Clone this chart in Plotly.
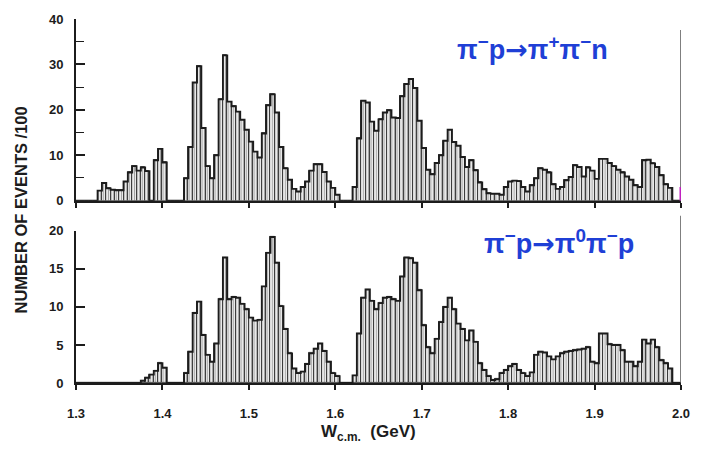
import plotly.graph_objects as go

# Histogram binning: 5 MeV bins starting at 1.300 GeV
BIN_LOW = 1.300
BIN_WIDTH = 0.005

# pi- p -> pi+ pi- n, events / 100 per bin (140 bins, 1.300 - 2.000 GeV)
top_counts = [
    0, 0, 0, 0, 0, 2.2, 3.9, 2.7, 2.4, 2.3,
    2.3, 4.2, 6.2, 7.6, 6.6, 7.3, 6.5, 0, 8.9, 11.4,
    8.4, 0, 0, 0, 0, 4.9, 11.8, 26.0, 29.6, 16.0,
    7.6, 4.9, 10.0, 22.3, 32.0, 21.8, 20.8, 19.6, 17.8, 15.6,
    13.0, 10.8, 9.5, 14.8, 21.0, 23.4, 19.4, 11.8, 7.1, 4.6,
    2.6, 2.0, 3.0, 4.2, 6.6, 8.0, 8.0, 6.3, 4.2, 2.8,
    1.3, 0, 0, 0, 3.0, 13.7, 22.0, 21.6, 17.4, 15.4,
    17.9, 19.4, 19.9, 18.3, 18.2, 23.0, 25.7, 26.8, 24.8, 17.6,
    11.6, 6.8, 5.8, 8.3, 10.0, 13.2, 15.6, 12.9, 12.1, 9.6,
    7.4, 8.9, 6.7, 4.0, 2.5, 1.6, 1.5, 1.5, 1.3, 3.0,
    4.2, 4.4, 4.3, 3.0, 2.0, 3.4, 4.9, 7.1, 6.8, 6.2,
    3.6, 2.6, 3.0, 4.5, 5.2, 7.8, 7.4, 5.3, 7.3, 6.6,
    4.8, 9.2, 9.2, 8.3, 7.6, 6.8, 6.2, 5.3, 4.6, 3.4,
    3.0, 8.9, 9.0, 8.2, 7.4, 5.6, 3.6, 2.8, 0, 0,
]

# pi- p -> pi0 pi- p, events / 100 per bin
bottom_counts = [
    0, 0, 0, 0, 0, 0, 0, 0, 0, 0,
    0, 0, 0, 0, 0, 0.3, 0.7, 1.1, 1.6, 2.6,
    2.0, 0, 0, 0, 0, 1.3, 4.1, 9.2, 10.7, 6.3,
    3.7, 2.8, 5.2, 11.0, 16.5, 11.0, 11.3, 11.2, 10.4, 9.7,
    8.6, 8.2, 8.3, 12.7, 17.1, 19.2, 15.8, 10.1, 7.1, 3.9,
    1.9, 1.3, 1.5, 2.5, 3.9, 4.5, 5.2, 4.2, 2.8, 1.3,
    0.9, 0, 0, 0, 1.0, 6.5, 11.2, 12.3, 10.8, 9.7,
    10.5, 11.2, 11.3, 11.0, 10.8, 14.0, 16.5, 16.4, 15.8, 12.2,
    7.6, 4.7, 3.9, 5.8, 8.0, 10.0, 11.2, 9.7, 7.8, 7.1,
    5.6, 6.9, 5.4, 2.6, 1.7, 0.9, 0.4, 0.5, 1.3, 1.7,
    2.2, 2.5, 1.7, 1.3, 0.9, 1.4, 3.7, 4.1, 4.0, 3.5,
    3.1, 3.5, 3.9, 4.1, 4.2, 4.3, 4.4, 4.5, 4.7, 2.8,
    2.6, 6.5, 6.5, 5.1, 5.0, 5.0, 4.3, 2.8, 2.8, 2.2,
    2.8, 5.7, 5.2, 5.7, 4.7, 3.0, 2.6, 1.9, 0, 0,
]

x_tick_vals = [1.3, 1.4, 1.5, 1.6, 1.7, 1.8, 1.9, 2.0]
x_tick_text = ["1.3", "1.4", "1.5", "1.6", "1.7", "1.8", "1.9", "2.0"]
top_y_ticks = [0, 10, 20, 30, 40]
bottom_y_ticks = [0, 5, 10, 15, 20]

ARROW = "<span style='font-family:DejaVu Sans'>→</span>"
top_label = "π<sup>−</sup>p" + ARROW + "π<sup>+</sup>π<sup>−</sup>n"
bottom_label = "π<sup>−</sup>p" + ARROW + "π<sup>0</sup>π<sup>−</sup>p"
y_title = "NUMBER OF EVENTS /100"
x_title = "W<sub>c.m.</sub>  (GeV)"

n_bins = len(top_counts)
centers = [BIN_LOW + BIN_WIDTH * (k + 0.5) for k in range(n_bins)]
edges = [BIN_LOW + BIN_WIDTH * k for k in range(n_bins + 1)]

INK = "#1c1c1c"
BLUE = "#1f3fd6"
FONT = "Liberation Sans"


def hist_traces(counts, xa, ya):
    bars = go.Bar(
        x=centers, y=counts, width=BIN_WIDTH, xaxis=xa, yaxis=ya,
        marker=dict(
            color="white",
            line=dict(color="#333333", width=0.9),
            pattern=dict(shape="|", fgcolor="#4a4a4a", bgcolor="white",
                         size=2.6, solidity=0.5),
        ),
        hoverinfo="x+y", showlegend=False,
    )
    outline = go.Scatter(
        x=edges, y=counts + [counts[-1]], xaxis=xa, yaxis=ya,
        mode="lines", line=dict(shape="hv", color=INK, width=1.9),
        hoverinfo="skip", showlegend=False,
    )
    return [bars, outline]


fig = go.Figure()
for t in hist_traces(top_counts, "x", "y"):
    fig.add_trace(t)
for t in hist_traces(bottom_counts, "x2", "y2"):
    fig.add_trace(t)

axis_common = dict(
    showline=True, linecolor=INK, linewidth=1.8, showgrid=False,
    zeroline=False, tickcolor=INK, tickwidth=1.5,
    tickfont=dict(family=FONT, size=13, color=INK, weight="bold"),
)

fig.update_layout(
    width=702, height=460,
    margin=dict(l=76, r=14, t=13, b=77),
    paper_bgcolor="white", plot_bgcolor="white",
    bargap=0,
    xaxis=dict(domain=[0, 1], range=[1.3, 2.0], anchor="y",
               tickvals=x_tick_vals, showticklabels=False,
               ticks="outside", ticklen=5, **axis_common),
    yaxis=dict(domain=[0.501, 1.0], range=[0, 40], anchor="x",
               tickvals=top_y_ticks, ticks="inside", ticklen=9,
               ticklabelstandoff=8,
               minor=dict(dtick=5, ticks="inside", ticklen=8,
                          tickcolor=INK, tickwidth=1.3),
               **axis_common),
    xaxis2=dict(domain=[0, 1], range=[1.3, 2.0], anchor="y2",
                tickvals=x_tick_vals, ticktext=x_tick_text,
                ticks="outside", ticklen=5, ticklabelstandoff=12,
                **axis_common),
    yaxis2=dict(domain=[0, 0.418], range=[0, 20], anchor="x2",
                tickvals=bottom_y_ticks, ticks="inside", ticklen=9,
                ticklabelstandoff=8, **axis_common),
)

# right-hand frame lines of both panels
fig.add_shape(type="line", xref="x", yref="y domain", x0=2.0, x1=2.0,
              y0=0, y1=0.94, line=dict(color="#555555", width=1.5))
fig.add_shape(type="line", xref="x2", yref="y2 domain", x0=2.0, x1=2.0,
              y0=0, y1=1.1, line=dict(color="#555555", width=1.5))
fig.add_shape(type="line", xref="x", yref="y", x0=2.0, x1=2.0,
              y0=0, y1=3, line=dict(color="#c020c0", width=3))

fig.add_annotation(text=top_label, xref="paper", yref="paper",
                   x=(538 - 76) / 612, y=(383 - 42) / 370,
                   showarrow=False, xanchor="center", yanchor="middle",
                   font=dict(family=FONT, size=27, color=BLUE, weight="bold"))
fig.add_annotation(text=bottom_label, xref="paper", yref="paper",
                   x=(565 - 76) / 612, y=(383 - 240) / 370,
                   showarrow=False, xanchor="center", yanchor="middle",
                   font=dict(family=FONT, size=27, color=BLUE, weight="bold"))
fig.add_annotation(text=y_title, xref="paper", yref="paper",
                   x=(20 - 76) / 612, y=(383 - 207) / 370, textangle=-90,
                   showarrow=False, xanchor="center", yanchor="middle",
                   font=dict(family=FONT, size=16.5, color=INK, weight="bold"))
fig.add_annotation(text=x_title, xref="paper", yref="paper",
                   x=(372 - 76) / 612, y=(383 - 434) / 370,
                   showarrow=False, xanchor="center", yanchor="middle",
                   font=dict(family=FONT, size=17, color=INK, weight="bold"))

fig.write_html("out.html")
